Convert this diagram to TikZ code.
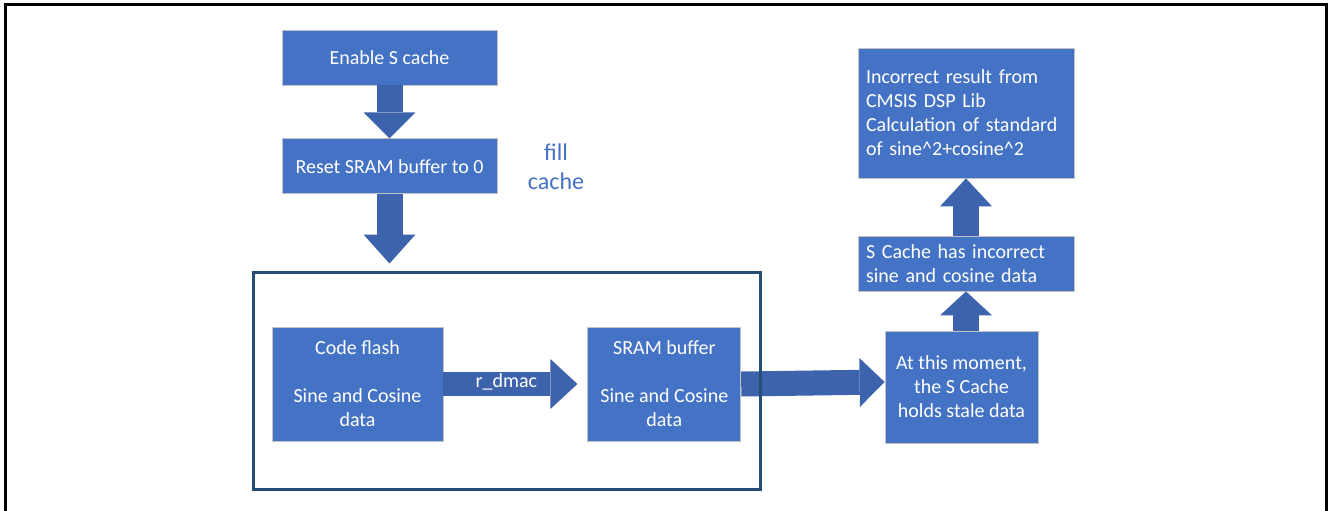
\documentclass[tikz,border=0pt]{standalone}
\usepackage{fontspec}
\setmainfont{Carlito}
\usepackage{tikz}
\usetikzlibrary{positioning,arrows.meta}
\definecolor{boxblue}{RGB}{68,114,196}
\definecolor{arrowblue}{RGB}{61,99,173}
\definecolor{framecol}{RGB}{35,78,118}
\definecolor{edgegray}{RGB}{195,195,195}

\begin{document}
\begin{tikzpicture}[x=1pt, y=-1pt,
  every node/.style = {font=\fontsize{20}{24}\selectfont},
  block/.style = {shape=rectangle, draw=edgegray, line width=0.8pt,
    fill=boxblue, text=white, align=center, inner sep=0pt},
  leftblock/.style = {block, align=left, text width=200pt, inner xsep=8pt},
  fat/.style = {draw=arrowblue, line width=26pt,
    -{Triangle[length=26pt, width=52pt, line width=0pt]}}]
    \useasboundingbox (0,0) rectangle (1328,511);
    \draw[line width=3pt] (5,530) -- (5,5) -- (1326,5) -- (1326,530);

    \node[block, minimum width=215pt, minimum height=55pt] (enable) at (389.5,57.5) {Enable S cache};
    \node[block, minimum width=215pt, minimum height=55pt, below=53pt of enable] (reset) {Reset SRAM buffer to 0};
    \node[text=boxblue, align=center, font=\fontsize{24}{29}\selectfont] (fill) at (556,166.5) {fill\\cache};

    \node[block, minimum width=171pt, minimum height=114pt] (flash) at (357.5,384) {Code flash\\[24pt]Sine and Cosine\\data};
    \node[block, minimum width=153pt, minimum height=114pt, right=144pt of flash] (sram) {SRAM buffer\\[24pt]Sine and Cosine\\data};

    \node[block, minimum width=153pt, minimum height=112pt] (moment) at (961.5,387) {At this moment,\\the S Cache\\holds stale data};
    \node[leftblock, minimum height=55pt] (scache) at (966,263.5) {S Cache has incorrect\\sine and cosine data};
    \node[leftblock, minimum height=130pt] (result) at (966,113) {Incorrect result from\\CMSIS DSP Lib\\Calculation of standard\\of sine\textasciicircum 2+cosine\textasciicircum 2};

    \draw[fat, line width=25pt, -{Triangle[length=25pt, width=49pt, line width=0pt]}]
      (sram.east) -- ([yshift=5pt]moment.west);
    % frame goes over the arrow above
    \node[draw=framecol, line width=3pt, minimum width=507pt, minimum height=217pt, inner sep=0pt] (dmabox) at (506.5,380.5) {};

    \draw[fat] (enable) -- (reset);
    \draw[fat, shorten >=7pt, -{Triangle[length=29pt, width=52pt, line width=0pt]}] (reset.south) -- (reset.south |- dmabox.north);
    \draw[fat, line width=24pt, shorten >=10pt, -{Triangle[length=27pt, width=50pt, line width=0pt]}]
      (flash) -- node[text=white, yshift=2pt, xshift=-9pt] (dmac) {r\_dmac} (sram);
    \draw[fat, -{Triangle[length=24pt, width=52pt, line width=0pt]}] (moment.north -| scache.south) -- (scache.south);
    \draw[fat, -{Triangle[length=28pt, width=52pt, line width=0pt]}] (scache) -- (result);
\end{tikzpicture}
\end{document}
